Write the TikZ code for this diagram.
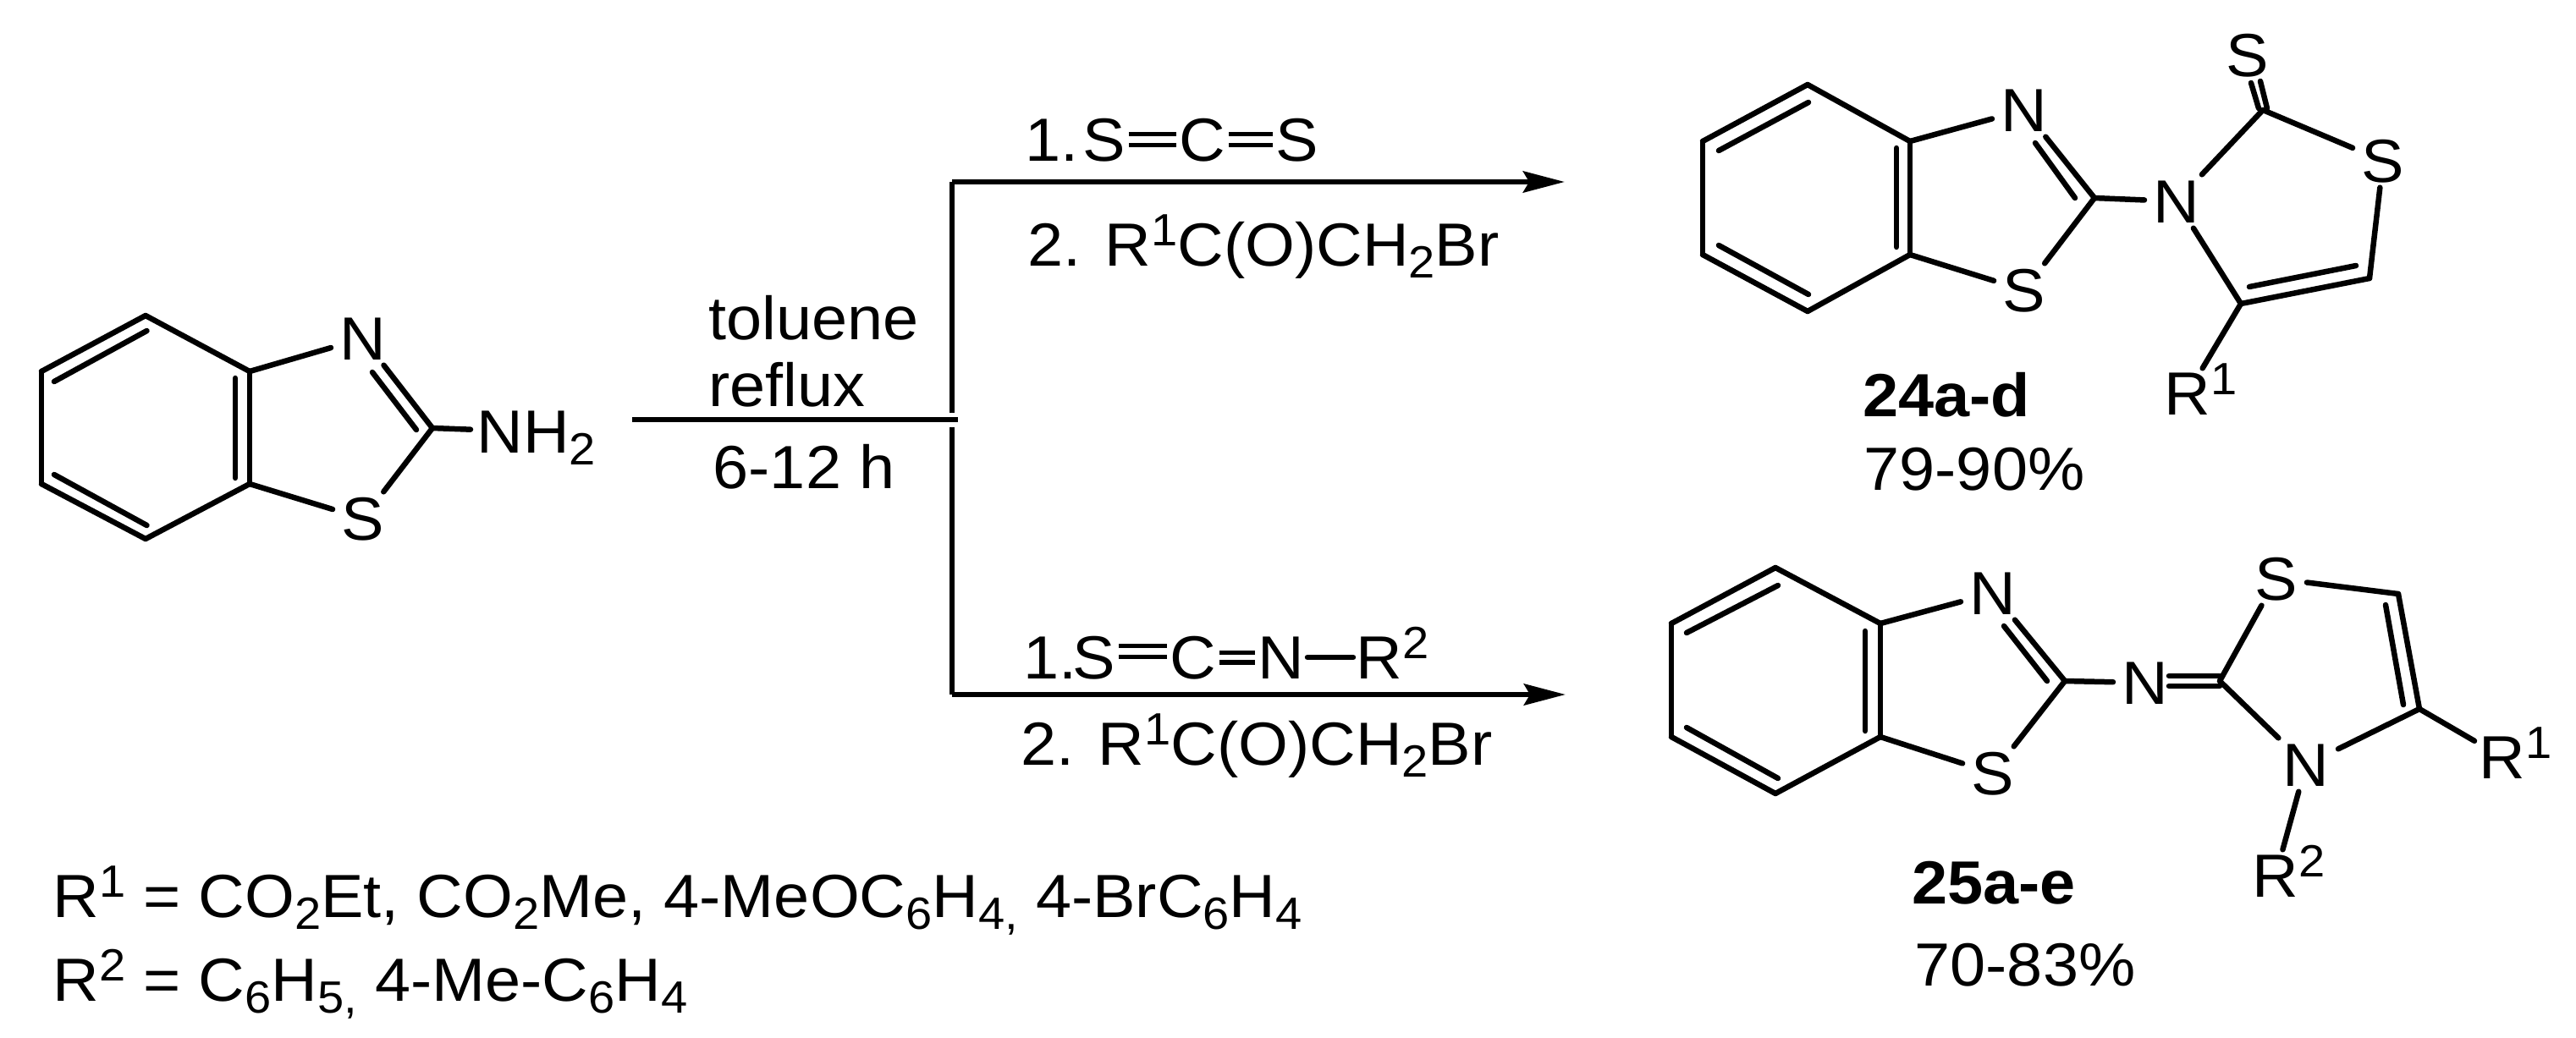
\documentclass[tikz,border=0pt]{standalone}
\usepackage{fontspec}
\setmainfont[FakeStretch=1.05]{Liberation Sans}
\usetikzlibrary{arrows.meta}

\newcommand{\tinyfont}{\fontsize{15.2}{17}\selectfont}
\newcommand{\supt}[1]{\raisebox{0.24cm}{\tinyfont #1}}
\newcommand{\subt}[1]{\raisebox{-0.14cm}{\tinyfont #1}}
\newcommand{\atomsup}[1]{\smash{\rlap{\supt{#1}}}}

\tikzset{
	atom/.style   = {shape=rectangle, inner xsep=0.10cm, inner ysep=0.06cm, text height=0.50cm, text depth=0pt},
	rgt/.style    = {shape=rectangle, inner xsep=0.03cm, inner ysep=0.03cm, text height=0.50cm, text depth=0pt},
	txt/.style    = {anchor=base west, inner sep=0pt},
	lbl/.style    = {anchor=base, inner sep=0pt},
	bond/.style   = {-, line width=0.065cm, line cap=round},
	dbond/.style  = {-, line width=0.055cm, double, double distance=0.075cm},
	branch/.style = {-, line width=0.065cm},
	arrow/.style  = {line width=0.065cm, -{Stealth[length=0.49cm, width=0.25cm, inset=0.07cm]}},
}

\begin{document}
\begin{tikzpicture}[font=\fontsize{20.5}{24}\selectfont]
	\useasboundingbox (0,0) rectangle (30.44,-12.26);

	% starting material
	\coordinate (a1) at (1.72,-3.73);
	\coordinate (a2) at (0.49,-4.39);
	\coordinate (a3) at (0.49,-5.72);
	\coordinate (a4) at (1.72,-6.37);
	\coordinate (a5) at (2.95,-5.72);
	\coordinate (a6) at (2.95,-4.39);
	\coordinate (a7) at (5.11,-5.06);
	\coordinate (a8) at (0.64,-4.51);
	\coordinate (a9) at (1.735,-3.91);
	\coordinate (a10) at (0.64,-5.61);
	\coordinate (a11) at (1.735,-6.21);
	\coordinate (a12) at (2.78,-4.47);
	\coordinate (a13) at (2.78,-5.65);
	\coordinate (a14) at (4.92,-5.08);
	\coordinate (a15) at (4.40,-4.40);
	\node[atom] (aN) at (4.29,-4.00)  {N};
	\node[atom] (aS) at (4.29,-6.13)  {S};
	\node[atom, inner xsep=0.07cm, anchor=west] (aNH) at (5.56,-5.10) {NH\rlap{\subt{2}}};

	\path [bond] (a1) edge (a2) (a2) edge (a3) (a3) edge (a4) (a4) edge (a5) (a5) edge (a6) (a6) edge (a1);
	\path [bond] (a8) edge (a9) (a10) edge (a11) (a12) edge (a13) (a14) edge (a15);
	\path [bond] (a6) edge (aN) (aN) edge (a7) (a7) edge (aS) (aS) edge (a5) (a7) edge (aNH);

	% branching arrows
	\coordinate (s0) at (7.47,-4.96);
	\coordinate (s1) at (11.32,-4.96);
	\coordinate (s2) at (11.25,-4.88);
	\coordinate (s3) at (11.25,-2.15);
	\coordinate (s4) at (11.25,-5.05);
	\coordinate (s5) at (11.25,-8.21);
	\coordinate (t1) at (18.49,-2.15);
	\coordinate (t2) at (18.50,-8.21);
	\path [branch] (s0) edge (s1) (s2) edge (s3) (s4) edge (s5);
	\path [arrow] (s3) edge (t1);
	\path [arrow] (s5) edge (t2);

	\node[txt] (tol) at (8.37,-4.01) {toluene};
	\node[txt] (ref) at (8.37,-4.80) {reflux};
	\node[txt] (tim) at (8.42,-5.77) {6-12 h};

	% upper reagents
	\node[txt] (u1) at (12.11,-1.90) {1.};
	\node[rgt] (uS1) at (13.05,-1.65) {S};
	\node[rgt] (uC)  at (14.21,-1.65) {C};
	\node[rgt] (uS2) at (15.33,-1.65) {S};
	\path (uS1) edge [dbond] (uC) (uC) edge [dbond] (uS2);
	\node[txt] (u2) at (12.14,-3.14) {2. R\supt{1}C(O)CH\subt{2}Br};

	% lower reagents
	\node[txt] (v1) at (12.09,-8.02) {1.};
	\node[rgt] (vS) at (12.93,-7.77) {S};
	\node[rgt] (vC) at (14.10,-7.77) {C};
	\node[rgt] (vN) at (15.14,-7.77) {N};
	\node[rgt] (vR) at (16.30,-7.77) {R\atomsup{2}};
	\path (vS) edge [dbond, transform canvas={yshift=0.07cm}] (vC);
	\path (vC) edge [dbond, double distance=0.06cm] (vN);
	\path [bond] (vN) edge (vR);
	\node[txt] (v2) at (12.06,-9.04) {2. R\supt{1}C(O)CH\subt{2}Br};

	% product 24
	\coordinate (b1) at (21.36,-1.00);
	\coordinate (b2) at (20.12,-1.67);
	\coordinate (b3) at (20.12,-3.01);
	\coordinate (b4) at (21.36,-3.68);
	\coordinate (b5) at (22.57,-3.01);
	\coordinate (b6) at (22.57,-1.67);
	\coordinate (b7) at (24.75,-2.34);
	\coordinate (b8) at (20.31,-1.78);
	\coordinate (b9) at (21.37,-1.21);
	\coordinate (b10) at (20.31,-2.90);
	\coordinate (b11) at (21.37,-3.48);
	\coordinate (b12) at (22.41,-1.75);
	\coordinate (b13) at (22.41,-2.92);
	\coordinate (b14) at (24.52,-2.34);
	\coordinate (b15) at (24.05,-1.69);
	\coordinate (b16) at (26.74,-1.30);
	\coordinate (b17) at (28.00,-3.29);
	\coordinate (b18) at (26.48,-3.59);
	\coordinate (b19) at (26.58,-3.39);
	\coordinate (b20) at (27.84,-3.14);
	\coordinate (b21) at (26.79,-1.28);
	\coordinate (b22) at (26.71,-0.96);
	\coordinate (b23) at (26.69,-1.28);
	\coordinate (b24) at (26.60,-0.98);
	\node[atom] (bN1) at (23.92,-1.30) {N};
	\node[atom] (bS1) at (23.92,-3.43) {S};
	\node[atom] (bN3) at (25.72,-2.38) {N};
	\node[atom] (bS2) at (28.16,-1.90) {S};
	\node[atom, inner ysep=0.03cm] (bS3) at (26.56,-0.65) {S};
	\node[atom, inner ysep=0.04cm] (bR) at (25.85,-4.65) {R\atomsup{1}};

	\path [bond] (b1) edge (b2) (b2) edge (b3) (b3) edge (b4) (b4) edge (b5) (b5) edge (b6) (b6) edge (b1);
	\path [bond] (b8) edge (b9) (b10) edge (b11) (b12) edge (b13) (b14) edge (b15) (b19) edge (b20);
	\path [bond] (b6) edge (bN1) (bN1) edge (b7) (b7) edge (bS1) (bS1) edge (b5) (b7) edge (bN3);
	\path [bond] (bN3) edge (b16) (b16) edge (bS2) (bS2) edge (b17) (b17) edge (b18) (b18) edge (bN3) (b18) edge (bR);
	\path [bond] (b21) edge (b22) (b23) edge (b24);

	\node[lbl] (bName) at (23.00,-4.92) {\textbf{24a-d}};
	\node[lbl] (bYld)  at (23.33,-5.79) {79-90\%};

	% product 25
	\coordinate (c1) at (20.98,-6.71);
	\coordinate (c2) at (19.75,-7.37);
	\coordinate (c3) at (19.75,-8.71);
	\coordinate (c4) at (20.98,-9.38);
	\coordinate (c5) at (22.22,-8.71);
	\coordinate (c6) at (22.22,-7.37);
	\coordinate (c7) at (24.40,-8.05);
	\coordinate (c8) at (19.93,-7.48);
	\coordinate (c9) at (21.01,-6.92);
	\coordinate (c10) at (19.93,-8.60);
	\coordinate (c11) at (21.01,-9.20);
	\coordinate (c12) at (22.04,-7.46);
	\coordinate (c13) at (22.04,-8.64);
	\coordinate (c14) at (24.19,-8.05);
	\coordinate (c15) at (23.68,-7.40);
	\coordinate (c16) at (26.23,-8.05);
	\coordinate (c17) at (28.34,-7.02);
	\coordinate (c18) at (28.59,-8.38);
	\coordinate (c19) at (28.19,-7.15);
	\coordinate (c20) at (28.40,-8.33);
	\coordinate (c21) at (25.63,-7.99);
	\coordinate (c22) at (26.23,-7.99);
	\coordinate (c23) at (25.63,-8.11);
	\coordinate (c24) at (26.23,-8.11);
	\node[atom] (cN1) at (23.55,-7.01) {N};
	\node[atom] (cS1) at (23.55,-9.14) {S};
	\node[atom] (cN2) at (25.35,-8.07) {N};
	\node[atom] (cS2) at (26.90,-6.84) {S};
	\node[atom] (cN3) at (27.25,-9.04) {N};
	\node[atom, inner xsep=0.05cm] (cR1) at (29.57,-8.95) {R\atomsup{1}};
	\node[atom, inner ysep=0.05cm] (cR2) at (26.89,-10.35) {R\atomsup{2}};

	\path [bond] (c1) edge (c2) (c2) edge (c3) (c3) edge (c4) (c4) edge (c5) (c5) edge (c6) (c6) edge (c1);
	\path [bond] (c8) edge (c9) (c10) edge (c11) (c12) edge (c13) (c14) edge (c15) (c19) edge (c20);
	\path [bond] (c6) edge (cN1) (cN1) edge (c7) (c7) edge (cS1) (cS1) edge (c5) (c7) edge (cN2);
	\path [bond] (c21) edge (c22) (c23) edge (c24);
	\path [bond] (c16) edge (cS2) (cS2) edge (c17) (c17) edge (c18) (c18) edge (cN3) (cN3) edge (c16);
	\path [bond] (c18) edge (cR1) (cN3) edge (cR2);

	\node[lbl] (cName) at (23.56,-10.68) {\textbf{25a-e}};
	\node[lbl] (cYld)  at (23.93,-11.65) {70-83\%};

	% substituent lines
	\node[txt] (r1) at (0.62,-10.84) {R\supt{1} = CO\subt{2}Et, CO\subt{2}Me, 4-MeOC\subt{6}H\subt{4,} 4-BrC\subt{6}H\subt{4}};
	\node[txt] (r2) at (0.62,-11.83) {R\supt{2} = C\subt{6}H\subt{5,} 4-Me-C\subt{6}H\subt{4}};
\end{tikzpicture}
\end{document}
